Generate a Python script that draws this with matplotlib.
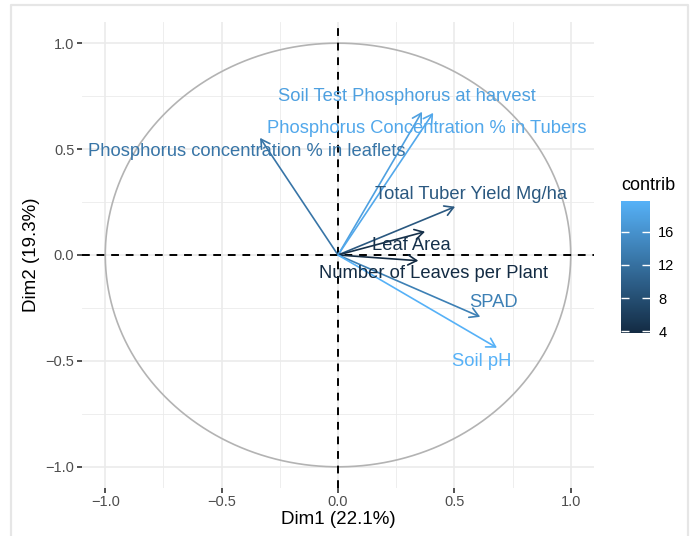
import numpy as np
import matplotlib
matplotlib.use("Agg")
import matplotlib.pyplot as plt
from matplotlib.colors import LinearSegmentedColormap, Normalize
from matplotlib.patches import FancyArrowPatch
from matplotlib.lines import Line2D
import matplotlib.cm as cm

plt.rcParams['font.family'] = ['Liberation Sans', 'DejaVu Sans']

# ---- data ----
variables = ["Soil Test Phosphorus at harvest",
             "Phosphorus Concentration % in Tubers",
             "Phosphorus concentration % in leaflets",
             "Total Tuber Yield Mg/ha",
             "Leaf Area",
             "Number of Leaves per Plant",
             "SPAD",
             "Soil pH"]
dim1 = [0.361, 0.409, -0.335, 0.503, 0.374, 0.345, 0.611, 0.683]
dim2 = [0.676, 0.671, 0.553, 0.228, 0.110, -0.027, -0.292, -0.438]
contrib = [17.7, 18.6, 12.6, 9.2, 4.6, 3.8, 13.8, 19.7]
label_x = [0.296, 0.383, -0.391, 0.570, 0.314, 0.409, 0.668, 0.619]
label_y = [0.746, 0.596, 0.487, 0.284, 0.047, -0.085, -0.225, -0.505]
ticks = [-1.0, -0.5, 0.0, 0.5, 1.0]
tick_labels = ["\u22121.0", "\u22120.5", "0.0", "0.5", "1.0"]
minor_ticks = [-0.75, -0.25, 0.25, 0.75]
cbar_ticks = [4, 8, 12, 16]
xlabel = "Dim1 (22.1%)"
ylabel = "Dim2 (19.3%)"

W, H = 695, 536
fig = plt.figure(figsize=(W / 100, H / 100), dpi=100)
fig.patch.set_facecolor('white')

# panel in pixel coords: x 82..594, y 22..488
ax = fig.add_axes([82 / W, 1 - 488 / H, (594 - 82) / W, (488 - 22) / H])
ax.set_xlim(-1.1, 1.1)
ax.set_ylim(-1.1, 1.1)
for s in ax.spines.values():
    s.set_visible(False)

ax.set_xticks(ticks)
ax.set_xticklabels(tick_labels)
ax.set_yticks(ticks)
ax.set_yticklabels(tick_labels)
ax.set_xticks(minor_ticks, minor=True)
ax.set_yticks(minor_ticks, minor=True)
ax.tick_params(which='major', length=3.5, width=1.2, color='#333333',
               labelcolor='#4D4D4D', labelsize=10.5, pad=2)
ax.tick_params(axis='x', which='major', pad=1.5)
ax.tick_params(which='minor', length=0)
ax.grid(which='major', color='#EBEBEB', lw=1.2, zorder=0)
ax.grid(which='minor', color='#EBEBEB', lw=0.6, zorder=0)
ax.set_axisbelow(True)

# circle
t = np.linspace(0, 2 * np.pi, 400)
ax.plot(np.cos(t), np.sin(t), color='#B3B3B3', lw=1.2, zorder=1)

# dashed reference lines
ax.axhline(0, color='black', lw=1.4, ls=(0, (4, 3.5)), zorder=2)
ax.axvline(0, color='black', lw=1.4, ls=(0, (4, 3.5)), zorder=2)

cmap = LinearSegmentedColormap.from_list('gg', ['#132B43', '#56B1F7'])
norm = Normalize(vmin=min(contrib), vmax=max(contrib))

for x, y, c, lx, ly, name in zip(dim1, dim2, contrib, label_x, label_y, variables):
    col = cmap(norm(c))
    arr = FancyArrowPatch((0, 0), (x, y),
                          arrowstyle='->,head_length=0.62,head_width=0.36',
                          mutation_scale=10, color=col, lw=1.2,
                          shrinkA=0, shrinkB=0, zorder=3)
    ax.add_patch(arr)
    ax.text(lx, ly, name, color=col, fontsize=13.2, ha='center', va='center', zorder=4)

# axis titles
fig.text(338 / W, 1 - 519 / H, xlabel, fontsize=13.5, ha='center', va='center', color='black')
fig.text(32 / W, 1 - 255 / H, ylabel, fontsize=13.5, ha='center', va='center',
         rotation=90, color='black')

# colorbar
cax = fig.add_axes([621 / W, 1 - 333 / H, 29 / W, 132 / H])
cb = fig.colorbar(cm.ScalarMappable(norm=norm, cmap=cmap), cax=cax)
cb.outline.set_visible(False)
cb.set_ticks(cbar_ticks)
cax.tick_params(left=True, right=True, labelleft=False, labelright=True,
                direction='in', length=5.5, width=1, color='white',
                labelsize=10.5, labelcolor='black', pad=6)
fig.text(621 / W, 1 - 185 / H, "contrib", fontsize=13, ha='left', va='center')

# light frame around the image (open at bottom)
fc = '#E6E6E6'
fig.add_artist(Line2D([11 / W, 11 / W, 688 / W, 688 / W],
                      [0, 1 - 5 / H, 1 - 5 / H, 0],
                      transform=fig.transFigure, color=fc, lw=1.6))

fig.savefig('out.png', dpi=100)
